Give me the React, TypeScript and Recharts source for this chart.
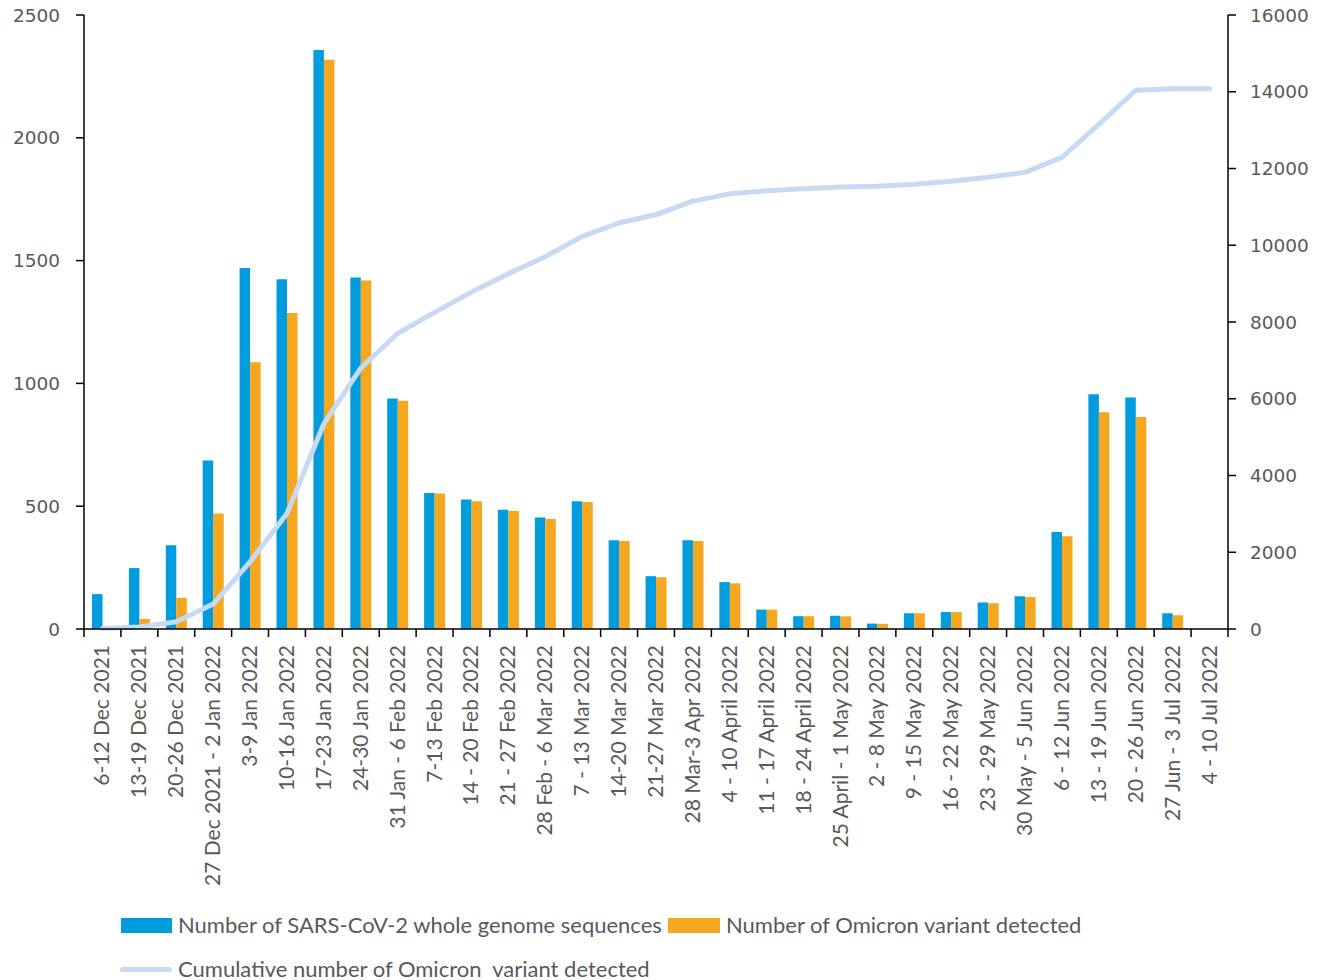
import React from 'react'
import { ComposedChart, Bar, Line, XAxis, YAxis, Legend } from 'recharts'

const weeks = [
  '6-12 Dec 2021', '13-19 Dec 2021', '20-26 Dec 2021', '27 Dec 2021 - 2 Jan 2022',
  '3-9 Jan 2022', '10-16 Jan 2022', '17-23 Jan 2022', '24-30 Jan 2022',
  '31 Jan - 6 Feb 2022', '7-13 Feb 2022', '14 - 20 Feb 2022', '21 - 27 Feb 2022',
  '28 Feb - 6 Mar 2022', '7 - 13 Mar 2022', '14-20 Mar 2022', '21-27 Mar 2022',
  '28 Mar-3 Apr 2022', '4 - 10 April 2022', '11 - 17 April 2022', '18 - 24 April 2022',
  '25 April - 1 May 2022', '2 - 8 May 2022', '9 - 15 May 2022', '16 - 22 May 2022',
  '23 - 29 May 2022', '30 May - 5 Jun 2022', '6 - 12 Jun 2022', '13 - 19 Jun 2022',
  '20 - 26 Jun 2022', '27 Jun - 3 Jul 2022', '4 - 10 Jul 2022',
]

const sequences = [
  142, 248, 341, 686, 1470, 1424, 2358, 1431, 939, 554, 527, 486, 454, 520, 361, 215,
  361, 191, 79, 52, 54, 22, 64, 69, 108, 133, 395, 956, 943, 64, 0,
]

const omicron = [
  0, 41, 127, 470, 1086, 1287, 2318, 1419, 929, 552, 520, 480, 448, 517, 358, 211,
  358, 186, 79, 52, 51, 21, 64, 69, 105, 130, 378, 883, 863, 56, 0,
]

const cumulative = [
  10, 50, 190, 650, 1750, 3010, 5350, 6800, 7700, 8250, 8780, 9260, 9700, 10230, 10580, 10800,
  11150, 11340, 11420, 11470, 11520, 11540, 11590, 11670, 11770, 11900, 12290, 13150, 14040, 14080, 14080,
]

const leftTicks = [0, 500, 1000, 1500, 2000, 2500]
const rightTicks = [0, 2000, 4000, 6000, 8000, 10000, 12000, 14000, 16000]

const BLUE = '#009CDE'
const ORANGE = '#F5A81F'
const LIGHT = '#C6DBF2'
const GREY = '#595959'
const LABEL_FONT = 'Lato, "Open Sans", sans-serif'
const NUM_FONT = '"DejaVu Sans", Verdana, sans-serif'

const W = 1330
const H = 980
const LEFT_W = 84
const RIGHT_W = 102

const data = weeks.map((week, i) => ({
  week,
  sequences: sequences[i],
  omicron: omicron[i],
  cumulative: cumulative[i],
}))

// category label plus a tick mark on the band boundary (ticks sit between categories)
const WeekTick = (props: any) => {
  const { x, y, payload, index } = props
  const band = payload?.offset ? payload.offset * 2 : (W - LEFT_W - RIGHT_W) / weeks.length
  const left = x - band / 2
  return (
    <g>
      <line x1={left} y1={y} x2={left} y2={y + 8} stroke="#000" strokeWidth={1.5} />
      {index === weeks.length - 1 && (
        <line x1={left + band} y1={y} x2={left + band} y2={y + 8} stroke="#000" strokeWidth={1.5} />
      )}
      <text
        x={0}
        y={0}
        transform={`translate(${x + 7},${y + 16}) rotate(-90)`}
        textAnchor="end"
        fontSize={21}
        fontFamily={LABEL_FONT}
        fill={GREY}
      >
        {payload.value}
      </text>
    </g>
  )
}

const LegendBox = () => (
  <div style={{ position: 'relative', width: W, height: 80, fontFamily: LABEL_FONT, fontSize: 22, color: GREY }}>
    <div style={{ position: 'absolute', left: 121, top: 18, width: 51, height: 15, background: BLUE }} />
    <div style={{ position: 'absolute', left: 178, top: 11, whiteSpace: 'nowrap' }}>
      Number of SARS-CoV-2 whole genome sequences
    </div>
    <div style={{ position: 'absolute', left: 668, top: 18, width: 52, height: 15, background: ORANGE }} />
    <div style={{ position: 'absolute', left: 726, top: 11, whiteSpace: 'nowrap' }}>
      Number of Omicron variant detected
    </div>
    <div style={{ position: 'absolute', left: 120, top: 67, width: 52, height: 5, borderRadius: 3, background: LIGHT }} />
    <div style={{ position: 'absolute', left: 178, top: 55, whiteSpace: 'pre' }}>
      Cumulative number of Omicron  variant detected
    </div>
  </div>
)

export default function App() {
  return (
    <div style={{ position: 'absolute', left: 0, top: 0, width: W, height: H, background: '#fff' }}>
      <ComposedChart
        width={W}
        height={H}
        data={data}
        margin={{ top: 15, right: 0, bottom: 0, left: 0 }}
        barGap={0}
      >
        <XAxis
          dataKey="week"
          interval={0}
          height={271}
          tickLine={false}
          tickSize={0}
          tickMargin={0}
          axisLine={{ stroke: '#000', strokeWidth: 1.5 }}
          tick={<WeekTick />}
        />
        <YAxis
          yAxisId="left"
          width={LEFT_W}
          domain={[0, 2500]}
          ticks={leftTicks}
          interval={0}
          tickSize={8}
          tickMargin={16}
          axisLine={{ stroke: '#000', strokeWidth: 1.5 }}
          tickLine={{ stroke: '#000', strokeWidth: 1.5 }}
          tick={{ fontSize: 18.5, fill: GREY, fontFamily: NUM_FONT }}
        />
        <YAxis
          yAxisId="right"
          orientation="right"
          width={RIGHT_W}
          domain={[0, 16000]}
          ticks={rightTicks}
          interval={0}
          tickSize={8}
          tickMargin={14}
          axisLine={{ stroke: '#000', strokeWidth: 1.5 }}
          tickLine={{ stroke: '#000', strokeWidth: 1.5 }}
          tick={{ fontSize: 18.5, fill: GREY, fontFamily: NUM_FONT, textAnchor: 'start' }}
        />
        <Legend
          verticalAlign="bottom"
          align="left"
          content={<LegendBox />}
          wrapperStyle={{ left: 0, width: W, height: 80 }}
        />
        <Bar
          yAxisId="left"
          dataKey="sequences"
          name="Number of SARS-CoV-2 whole genome sequences"
          fill={BLUE}
          barSize={10.5}
          isAnimationActive={false}
        />
        <Bar
          yAxisId="left"
          dataKey="omicron"
          name="Number of Omicron variant detected"
          fill={ORANGE}
          barSize={10.5}
          isAnimationActive={false}
        />
        <Line
          yAxisId="right"
          type="linear"
          dataKey="cumulative"
          name="Cumulative number of Omicron  variant detected"
          stroke={LIGHT}
          strokeWidth={5}
          strokeLinecap="round"
          strokeLinejoin="round"
          dot={false}
          activeDot={false}
          isAnimationActive={false}
        />
      </ComposedChart>
    </div>
  )
}
